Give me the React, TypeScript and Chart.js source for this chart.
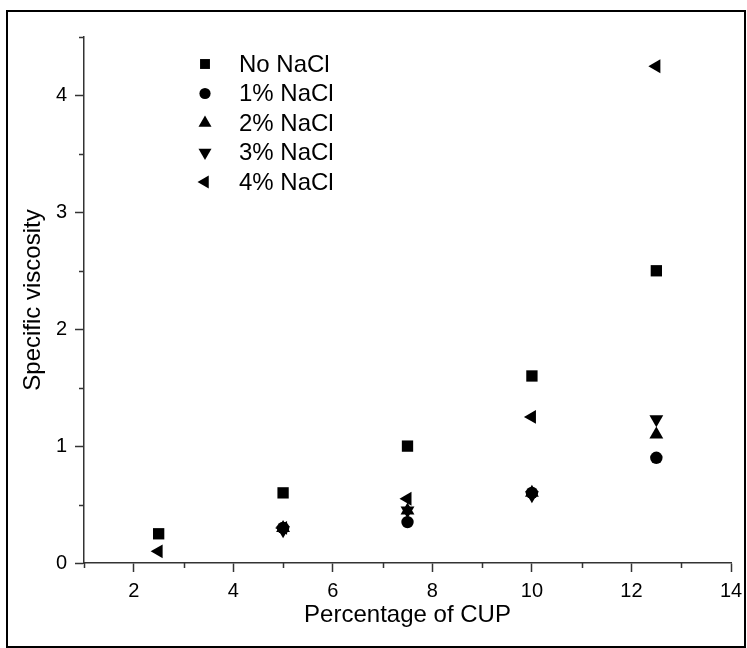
import React, { useEffect, useRef } from "react";
import { Chart, registerables } from "chart.js";
import { drawPoint } from "chart.js/helpers";

Chart.register(...registerables);

const cupPercent = [2.5, 5, 7.5, 10, 12.5];
const noNaCl = [0.25, 0.6, 1.0, 1.6, 2.5];
const nacl1 = [null, 0.3, 0.35, 0.6, 0.9];
const nacl2 = [null, 0.3, 0.45, 0.6, 1.1];
const nacl3 = [null, 0.28, 0.45, 0.58, 1.23];
const nacl4 = [0.1, 0.3, 0.55, 1.25, 4.25];

const seriesLabels = ["No NaCl", "1% NaCl", "2% NaCl", "3% NaCl", "4% NaCl"];
const seriesValues = [noNaCl, nacl1, nacl2, nacl3, nacl4];
const seriesStyles = ["rect", "circle", "triangle", "triangle", "triangle"];
const seriesRotations = [0, 0, 0, 180, 270];
const seriesRadii = [8, 6.2, 8, 8, 8];
const legendRadii = [7, 5.6, 7.5, 7.5, 7.5];

const xTitle = "Percentage of CUP";
const yTitle = "Specific viscosity";

const FONT = "'Liberation Sans', Arial, sans-serif";
const AXIS_COLOR = "#333";

const minorTicksPlugin = {
  id: "minorTicks",
  afterDraw(chart: any) {
    const ctx = chart.ctx;
    const xs = chart.scales.x;
    const ys = chart.scales.y;
    ctx.save();
    ctx.strokeStyle = AXIS_COLOR;
    ctx.lineWidth = 1.5;
    ctx.beginPath();
    xs.ticks.forEach((t: any) => {
      if (Math.abs(t.value % 2) > 1e-6) {
        const px = Math.round(xs.getPixelForValue(t.value)) + 0.5;
        ctx.moveTo(px, xs.top);
        ctx.lineTo(px, xs.top + 5);
      }
    });
    ys.ticks.forEach((t: any) => {
      if (Math.abs(t.value - Math.round(t.value)) > 1e-6) {
        const py = Math.round(ys.getPixelForValue(t.value)) + 0.5;
        ctx.moveTo(ys.right, py);
        ctx.lineTo(ys.right - 5, py);
      }
    });
    ctx.stroke();
    ctx.restore();
  },
};

const innerLegendPlugin = {
  id: "innerLegend",
  afterDraw(chart: any) {
    const ctx = chart.ctx;
    ctx.save();
    ctx.fillStyle = "#000";
    ctx.strokeStyle = "#000";
    ctx.font = `24px ${FONT}`;
    ctx.textBaseline = "middle";
    ctx.textAlign = "left";
    chart.data.datasets.forEach((ds: any, i: number) => {
      const y = 64 + i * 29.5;
      ctx.fillStyle = "#000";
      drawPoint(
        ctx,
        {
          pointStyle: seriesStyles[i],
          rotation: seriesRotations[i],
          radius: legendRadii[i],
          borderWidth: 0,
        } as any,
        205,
        y
      );
      ctx.fillText(ds.label, 239, y + 1);
    });
    ctx.restore();
  },
};

export default function App() {
  const ref = useRef<HTMLCanvasElement | null>(null);

  useEffect(() => {
    if (!ref.current) return;
    const datasets = seriesLabels.map((label, i) => ({
      label,
      data: cupPercent
        .map((x, j) => ({ x, y: seriesValues[i][j] }))
        .filter((p) => p.y !== null),
      pointStyle: seriesStyles[i],
      rotation: seriesRotations[i],
      pointRadius: seriesRadii[i],
      pointHoverRadius: seriesRadii[i],
      backgroundColor: "#000",
      borderColor: "#000",
      pointBorderWidth: 0,
      showLine: false,
    }));

    const chart = new Chart(ref.current, {
      type: "scatter",
      data: { datasets },
      options: {
        animation: false,
        responsive: false,
        devicePixelRatio: 1,
        layout: { padding: { top: 37, right: 16, left: 0, bottom: 0 } },
        plugins: {
          legend: { display: false },
          tooltip: { enabled: false },
        },
        scales: {
          x: {
            type: "linear",
            min: 1,
            max: 14,
            afterFit: (s: any) => {
              s.height = 85;
              s.paddingLeft = 0;
              s.paddingRight = 0;
            },
            ticks: {
              stepSize: 1,
              autoSkip: false,
              maxRotation: 0,
              padding: 7,
              color: "#000",
              font: { family: FONT, size: 20 },
              callback: (v: any) => (Number(v) % 2 === 0 ? String(v) : ""),
            },
            grid: {
              drawOnChartArea: false,
              drawTicks: true,
              tickLength: 9,
              tickWidth: 1.5,
              tickColor: (c: any) =>
                c.tick && Number(c.tick.value) % 2 === 0 ? AXIS_COLOR : "rgba(0,0,0,0)",
            },
            border: { display: true, color: AXIS_COLOR, width: 1.5 },
            title: {
              display: true,
              text: xTitle,
              color: "#000",
              font: { family: FONT, size: 24 },
              padding: { top: 18, bottom: 18 },
            },
          },
          y: {
            type: "linear",
            min: 0,
            max: 4.5,
            afterFit: (s: any) => {
              s.width = 84;
              s.paddingTop = 0;
              s.paddingBottom = 0;
            },
            ticks: {
              stepSize: 0.5,
              autoSkip: false,
              padding: 8,
              color: "#000",
              font: { family: FONT, size: 20 },
              callback: (v: any) =>
                Number.isInteger(Number(v)) ? String(v) : "",
            },
            grid: {
              drawOnChartArea: false,
              drawTicks: true,
              tickLength: 9,
              tickWidth: 1.5,
              tickColor: (c: any) =>
                c.tick && Number.isInteger(Number(c.tick.value))
                  ? AXIS_COLOR
                  : "rgba(0,0,0,0)",
            },
            border: { display: true, color: AXIS_COLOR, width: 1.5 },
            title: {
              display: true,
              text: yTitle,
              color: "#000",
              font: { family: FONT, size: 24 },
              padding: { top: 19, bottom: 19 },
            },
          },
        },
      },
      plugins: [minorTicksPlugin, innerLegendPlugin],
    } as any);

    return () => chart.destroy();
  }, []);

  return (
    <div
      style={{
        position: "fixed",
        left: 0,
        top: 0,
        width: 747,
        height: 648,
        background: "#fff",
      }}
    >
      <canvas
        ref={ref}
        width={747}
        height={648}
        style={{ position: "absolute", left: 0, top: 0, width: 747, height: 648 }}
      />
      <div
        style={{
          position: "absolute",
          left: 6,
          top: 10,
          width: 740,
          height: 638,
          border: "2px solid #000",
          boxSizing: "border-box",
          pointerEvents: "none",
        }}
      />
    </div>
  );
}
